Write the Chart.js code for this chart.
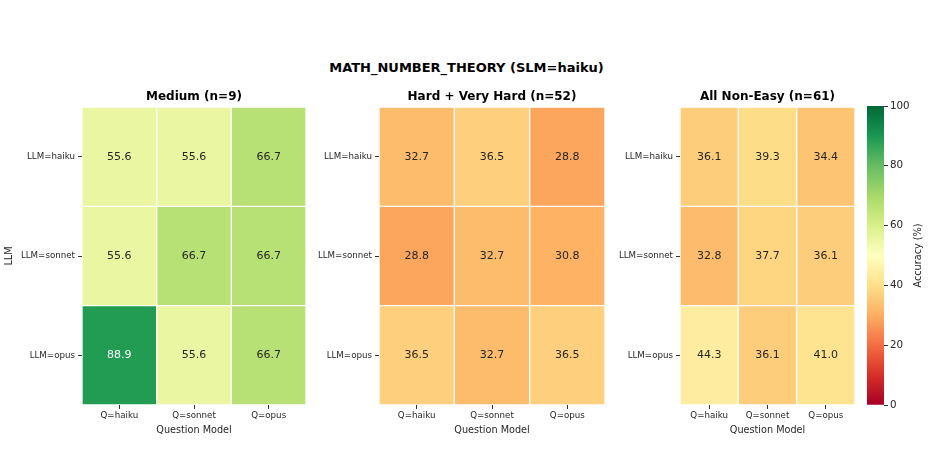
<!DOCTYPE html>
<html><head><meta charset="utf-8">
<script src="https://cdn.jsdelivr.net/npm/chart.js@4"></script>
<style>
body{margin:0;width:933px;height:466px;background:#fff;position:relative;overflow:hidden;font-family:'DejaVu Sans';}
canvas{position:absolute;}
#title{position:absolute;left:0;width:933px;top:60px;line-height:15px;text-align:center;font:bold 13px 'DejaVu Sans';color:#000;}
</style></head><body>
<div id="title">MATH_NUMBER_THEORY (SLM=haiku)</div>
<canvas id="c1" width="308" height="350" style="left:0px;top:90px"></canvas>
<canvas id="c2" width="297" height="350" style="left:310px;top:90px"></canvas>
<canvas id="c3" width="247" height="350" style="left:610px;top:90px"></canvas>
<canvas id="cb" width="73" height="350" style="left:860px;top:90px"></canvas>
<script>
// ---- data ----
const questionModels = ['Q=haiku', 'Q=sonnet', 'Q=opus'];
const llmRows = ['LLM=haiku', 'LLM=sonnet', 'LLM=opus'];
const panelTitles = ['Medium (n=9)', 'Hard + Very Hard (n=52)', 'All Non-Easy (n=61)'];
const mediumVals = [[55.6, 55.6, 66.7], [55.6, 66.7, 66.7], [88.9, 55.6, 66.7]];
const hardVals = [[32.7, 36.5, 28.8], [28.8, 32.7, 30.8], [36.5, 32.7, 36.5]];
const nonEasyVals = [[36.1, 39.3, 34.4], [32.8, 37.7, 36.1], [44.3, 36.1, 41.0]];
const colorbarTicks = [0, 20, 40, 60, 80, 100];

// ---- colormap (RdYlGn) ----
const STOPS = ['#a50026','#d73027','#f46d43','#fdae61','#fee08b','#ffffbf','#d9ef8b','#a6d96a','#66bd63','#1a9850','#006837'];
function hex2rgb(h){return [parseInt(h.slice(1,3),16),parseInt(h.slice(3,5),16),parseInt(h.slice(5,7),16)];}
function cmapRGB(v){
  let t = Math.max(0, Math.min(1, v/100)) * (STOPS.length-1);
  let i = Math.min(Math.floor(t), STOPS.length-2); let f = t - i;
  const a = hex2rgb(STOPS[i]), b = hex2rgb(STOPS[i+1]);
  return a.map((c,k)=>Math.round(c + (b[k]-c)*f));
}
function cmap(v){const c=cmapRGB(v);return `rgb(${c[0]},${c[1]},${c[2]})`;}
function lum(rgb){
  const l = rgb.map(c=>{c/=255;return c<=0.03928? c/12.92 : Math.pow((c+0.055)/1.055,2.4);});
  return 0.2126*l[0]+0.7152*l[1]+0.0722*l[2];
}

Chart.defaults.font.family = "'DejaVu Sans'";
Chart.defaults.color = '#262626';
const TICKC = '#333333';

function makePanel(id, vals, title, yAxisWidth, showYTitle){
  const annot = {
    id: 'annot'+id,
    afterDatasetsDraw(chart){
      const ctx = chart.ctx;
      ctx.save();
      ctx.font = "11px 'DejaVu Sans'";
      ctx.textAlign = 'center'; ctx.textBaseline = 'middle';
      chart.data.datasets.forEach((ds,i)=>{
        chart.getDatasetMeta(i).data.forEach((bar,j)=>{
          const v = vals[i][j]; const p = bar.getCenterPoint();
          ctx.fillStyle = lum(cmapRGB(v)) > 0.408 ? '#262626' : '#ffffff';
          ctx.fillText(v.toFixed(1), p.x, p.y);
        });
      });
      ctx.restore();
    }
  };
  return new Chart(document.getElementById(id), {
    type: 'bar',
    data: {
      labels: questionModels,
      datasets: llmRows.map((r,i)=>({
        label: r,
        data: questionModels.map(()=>1),
        backgroundColor: vals[i].map(cmap),
        borderColor: '#ffffff',
        borderWidth: 1,
        borderSkipped: false,
        barPercentage: 1,
        categoryPercentage: 1
      }))
    },
    options: {
      responsive: false, animation: false, devicePixelRatio: 1,
      layout: {padding: {left: 0, right: 2, top: 0, bottom: 0}},
      plugins: {
        legend: {display: false}, tooltip: {enabled: false},
        title: {display: true, text: title, fullSize: false, color: '#000',
          font: {size: 12, weight: 'bold', lineHeight: '13px'}, padding: {top: 0, bottom: 4}}
      },
      scales: {
        x: {
          stacked: true,
          grid: {offset: false, drawOnChartArea: false, drawTicks: true, tickLength: 4, color: TICKC},
          border: {display: false},
          ticks: {font: {size: 8.7}, padding: 2, maxRotation: 0, color: '#262626'},
          title: {display: true, text: 'Question Model', font: {size: 9.7}, padding: {top: 0, bottom: 4}, color: '#262626'},
          afterFit(s){ s.height = 35; }
        },
        y: {
          type: 'linear', stacked: true, reverse: true, min: 0, max: 3,
          afterBuildTicks(axis){ axis.ticks = [0.5,1.5,2.5].map(v=>({value:v})); },
          grid: {drawOnChartArea: false, drawTicks: true, tickLength: 4, color: TICKC},
          border: {display: false},
          ticks: {autoSkip: false, font: {size: 8.7}, padding: 3, color: '#262626',
            callback: (v)=> llmRows[Math.floor(v)]},
          title: {display: showYTitle, text: 'LLM', font: {size: 9.7}, padding: {top: 4, bottom: 0}, color: '#262626'},
          afterFit(s){ s.width = yAxisWidth; }
        }
      }
    },
    plugins: [annot]
  });
}

makePanel('c1', mediumVals, panelTitles[0], 82, true);
makePanel('c2', hardVals, panelTitles[1], 69, false);
makePanel('c3', nonEasyVals, panelTitles[2], 70, false);

// ---- colorbar ----
const cbLabel = {
  id: 'cbLabel',
  afterDraw(chart){
    const ctx = chart.ctx, a = chart.chartArea;
    ctx.save();
    ctx.font = "9.7px 'DejaVu Sans'"; ctx.fillStyle = '#262626';
    ctx.textAlign = 'center'; ctx.textBaseline = 'middle';
    ctx.translate(58, (a.top + a.bottom)/2);
    ctx.rotate(-Math.PI/2);
    ctx.fillText('Accuracy (%)', 0, 0);
    ctx.restore();
  }
};
new Chart(document.getElementById('cb'), {
  type: 'bar',
  data: {
    labels: ['cb'],
    datasets: [{
      data: [100],
      barPercentage: 1, categoryPercentage: 1, borderWidth: 0,
      backgroundColor(ctx){
        const a = ctx.chart.chartArea; if (!a) return '#ffffbf';
        const g = ctx.chart.ctx.createLinearGradient(0, a.bottom, 0, a.top);
        STOPS.forEach((c,i)=>g.addColorStop(i/(STOPS.length-1), c));
        return g;
      }
    }]
  },
  options: {
    responsive: false, animation: false, devicePixelRatio: 1,
    layout: {padding: {left: 7, right: 0, top: 16, bottom: 35}},
    plugins: {legend: {display: false}, tooltip: {enabled: false}, title: {display: false}},
    scales: {
      x: {display: false},
      y: {
        position: 'right', min: 0, max: 100,
        afterBuildTicks(axis){ axis.ticks = colorbarTicks.map(v=>({value:v})); },
        grid: {drawOnChartArea: false, drawTicks: true, tickLength: 4, color: TICKC},
        border: {display: false},
        ticks: {font: {size: 10.3}, padding: 2, color: '#262626'},
        afterFit(s){ s.width = 49; }
      }
    }
  },
  plugins: [cbLabel]
});
</script>
</body></html>
